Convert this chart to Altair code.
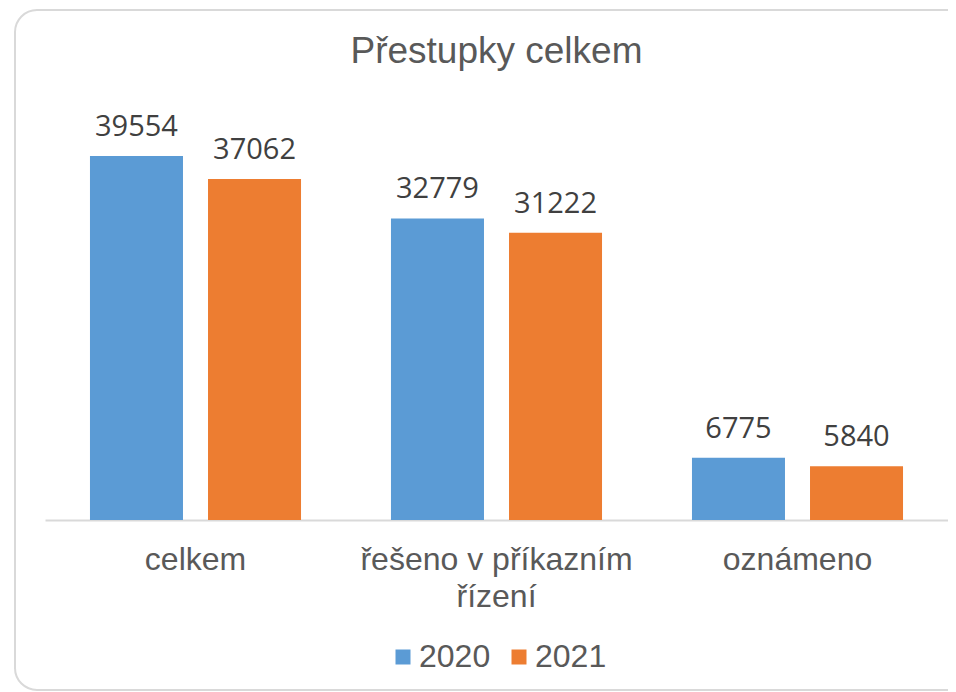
import altair as alt
import pandas as pd

categories = ["celkem", "řešeno v příkazním řízení", "oznámeno"]
years = ["2020", "2021"]
values_2020 = [39554, 32779, 6775]
values_2021 = [37062, 31222, 5840]
colors = ["#5B9BD5", "#ED7D31"]

rows = []
for c, v in zip(categories, values_2020):
    rows.append({"kategorie": c, "rok": "2020", "pocet": v})
for c, v in zip(categories, values_2021):
    rows.append({"kategorie": c, "rok": "2021", "pocet": v})
df = pd.DataFrame(rows)

TEXT = "#595959"

x_enc = alt.X(
    "kategorie:N",
    sort=categories,
    scale=alt.Scale(paddingInner=0, paddingOuter=0),
    axis=alt.Axis(
        title=None,
        labelAngle=0,
        ticks=False,
        domainColor="#d9d9d9",
        domainWidth=2,
        labelFont="Liberation Sans",
        labelFontSize=32,
        labelColor=TEXT,
        labelPadding=24,
        labelLineHeight=37,
        labelLimit=0,
        labelExpr="datum.value == 'řešeno v příkazním řízení' ? ['řešeno v příkazním', 'řízení'] : datum.value",
    ),
)
xo_enc = alt.XOffset(
    "rok:N",
    sort=years,
    scale=alt.Scale(paddingInner=0.212, paddingOuter=0.381),
)
y_enc = alt.Y(
    "pocet:Q",
    scale=alt.Scale(domain=[0, 40000], nice=False),
    axis=None,
)

bars = alt.Chart(df).mark_bar().encode(
    x=x_enc,
    xOffset=xo_enc,
    y=y_enc,
    color=alt.Color(
        "rok:N",
        sort=years,
        scale=alt.Scale(domain=years, range=colors),
        legend=alt.Legend(
            title=None,
            orient="none",
            direction="horizontal",
            legendX=342,
            legendY=489,
            symbolType="square",
            symbolSize=225,
            symbolStrokeWidth=0,
            labelFont="Liberation Sans",
            labelFontSize=32,
            labelColor=TEXT,
            labelOffset=0,
            columnPadding=12,
        ),
    ),
)

labels = alt.Chart(df).mark_text(
    font="Open Sans",
    fontSize=29,
    color="#404040",
    baseline="alphabetic",
    dy=-20,
).encode(
    x=alt.X("kategorie:N", sort=categories),
    xOffset=alt.XOffset("rok:N", sort=years),
    y=alt.Y("pocet:Q"),
    text=alt.Text("pocet:Q", format="d"),
)

frame = alt.Chart(pd.DataFrame({"f": [0]})).mark_rect(
    fill=None,
    stroke="#d9d9d9",
    strokeWidth=2,
    cornerRadiusTopLeft=22,
    cornerRadiusBottomLeft=22,
    cornerRadiusTopRight=0,
    cornerRadiusBottomRight=0,
).encode(
    x=alt.value(-30),
    x2=alt.value(960),
    y=alt.value(-142),
    y2=alt.value(538),
)

chart = alt.layer(frame, bars, labels).properties(
    width=903,
    height=368,
    background="white",
    title=alt.TitleParams(
        "Přestupky celkem",
        font="Liberation Sans",
        fontSize=37,
        fontWeight="normal",
        color=TEXT,
        anchor="middle",
        offset=-62,
    ),
    autosize=alt.AutoSizeParams(type="none"),
    padding={"left": 37, "top": 144, "right": 0, "bottom": 172},
).configure_view(strokeWidth=0, stroke="transparent")

chart.save("out.html", embed_options={"renderer": "svg", "actions": False})
